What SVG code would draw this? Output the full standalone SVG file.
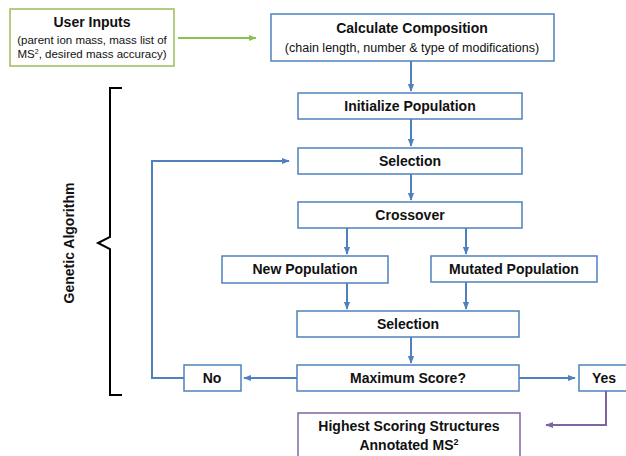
<svg xmlns="http://www.w3.org/2000/svg" width="626" height="456" viewBox="0 0 626 456">
<defs>
<marker id="ab" viewBox="0 0 10 10" refX="9" refY="5" markerWidth="4" markerHeight="4" orient="auto" markerUnits="strokeWidth"><path d="M0,1 L10,5 L0,9 z" fill="#4f81bd"/></marker>
<marker id="ag" viewBox="0 0 10 10" refX="9" refY="5" markerWidth="4" markerHeight="4" orient="auto" markerUnits="strokeWidth"><path d="M0,1 L10,5 L0,9 z" fill="#8cc152"/></marker>
<marker id="ap" viewBox="0 0 10 10" refX="9" refY="5" markerWidth="4" markerHeight="4" orient="auto" markerUnits="strokeWidth"><path d="M0,1 L10,5 L0,9 z" fill="#8064a2"/></marker>
</defs>
<style>
text{font-family:"Liberation Sans",Arial,sans-serif;fill:#111;text-anchor:middle}
.t{font-weight:bold;font-size:14px}
.s{font-size:11.5px}
.b{fill:#fff;stroke:#4f81bd;stroke-width:1.5}
.c{fill:none;stroke:#4f81bd;stroke-width:2}
</style>
<rect width="626" height="456" fill="#fff"/>
<g id="user-inputs">
<rect x="10" y="9" width="164" height="57" fill="#fff" stroke="#9bbb59" stroke-width="1.5"/>
<text class="t" x="92" y="27">User Inputs</text>
<text class="s" x="92" y="44">(parent ion mass, mass list of</text>
<text class="s" x="92" y="58">MS<tspan font-size="7" dy="-4">2</tspan><tspan dy="4">, desired mass accuracy)</tspan></text>
</g>
<g id="calc">
<rect class="b" x="271" y="14" width="283" height="47"/>
<text class="t" x="412" y="33">Calculate Composition</text>
<text x="412" y="52" font-size="12.5">(chain length, number &amp; type of modifications)</text>
</g>
<g id="init"><rect class="b" x="298" y="93" width="224" height="26"/><text class="t" x="410" y="111">Initialize Population</text></g>
<g id="sel1"><rect class="b" x="298" y="148" width="224" height="26"/><text class="t" x="410" y="166">Selection</text></g>
<g id="cross"><rect class="b" x="298" y="202" width="224" height="26"/><text class="t" x="410" y="220">Crossover</text></g>
<g id="newpop"><rect class="b" x="222" y="256" width="166" height="27"/><text class="t" x="305" y="274">New Population</text></g>
<g id="mutpop"><rect class="b" x="431" y="256" width="166" height="26"/><text class="t" x="514" y="274">Mutated Population</text></g>
<g id="sel2"><rect class="b" x="297" y="311" width="222" height="26"/><text class="t" x="408" y="329">Selection</text></g>
<g id="maxscore"><rect class="b" x="297" y="365" width="222" height="26"/><text class="t" x="408" y="383">Maximum Score?</text></g>
<g id="no"><rect class="b" x="184" y="365" width="57" height="26"/><text class="t" x="212" y="383">No</text></g>
<g id="yes"><rect class="b" x="579" y="365" width="60" height="26"/><text class="t" x="604" y="383">Yes</text></g>
<g id="highest">
<rect x="298" y="413" width="222" height="50" fill="#fff" stroke="#8064a2" stroke-width="1.5"/>
<text class="t" x="409" y="431">Highest Scoring Structures</text>
<text class="t" x="409" y="450">Annotated MS<tspan font-size="9" dy="-5">2</tspan></text>
</g>
<g id="ga-label">
<path d="M122,88 H110 V237 L98,243 L110,249 V395 H122" fill="none" stroke="#000" stroke-width="2"/>
<text class="t" transform="translate(74,243) rotate(-90)">Genetic Algorithm</text>
</g>
<g id="connectors">
<line x1="178" y1="38" x2="256" y2="38" stroke="#8cc152" stroke-width="2" marker-end="url(#ag)"/>
<line class="c" x1="411" y1="61" x2="411" y2="91" marker-end="url(#ab)"/>
<line class="c" x1="411" y1="119" x2="411" y2="146" marker-end="url(#ab)"/>
<line class="c" x1="411" y1="174" x2="411" y2="200" marker-end="url(#ab)"/>
<line class="c" x1="347" y1="228" x2="347" y2="254" marker-end="url(#ab)"/>
<line class="c" x1="466" y1="228" x2="466" y2="254" marker-end="url(#ab)"/>
<line class="c" x1="347" y1="283" x2="347" y2="309" marker-end="url(#ab)"/>
<line class="c" x1="466" y1="282" x2="466" y2="309" marker-end="url(#ab)"/>
<line class="c" x1="411" y1="337" x2="411" y2="363" marker-end="url(#ab)"/>
<line class="c" x1="297" y1="378" x2="244" y2="378" marker-end="url(#ab)"/>
<line class="c" x1="519" y1="378" x2="575" y2="378" marker-end="url(#ab)"/>
<path class="c" d="M184,378 H152 V161 H289" marker-end="url(#ab)"/>
<path d="M606,391 V425 H546" fill="none" stroke="#8064a2" stroke-width="2" marker-end="url(#ap)"/>
</g>
</svg>
